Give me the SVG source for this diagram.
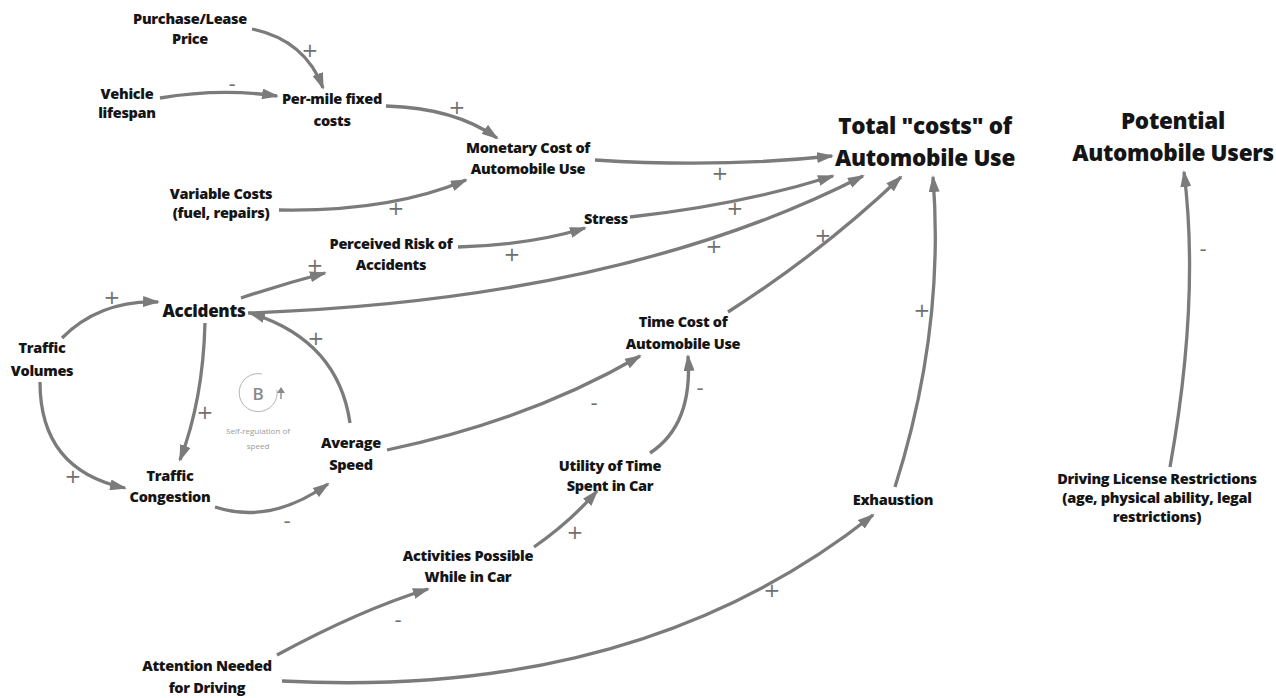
<svg xmlns="http://www.w3.org/2000/svg" width="1276" height="698" viewBox="0 0 1276 698">
  <defs>
    <marker id="arrow" markerUnits="userSpaceOnUse" markerWidth="17" markerHeight="11" viewBox="0 0 17 11" refX="15" refY="5.5" orient="auto">
      <path d="M0,0 L17,5.5 L0,11 z" fill="#7b7b7b"/>
    </marker>
    <marker id="arrow-small" markerUnits="userSpaceOnUse" markerWidth="6" markerHeight="8" viewBox="0 0 6 8" refX="5" refY="4" orient="auto">
      <path d="M0,0 L6,4 L0,8 z" fill="#8a8a8a"/>
    </marker>
  </defs>
  <style>
    .node { font-family: "Open Sans", Lato, "Liberation Sans", sans-serif; font-weight: 800; font-size: 14.5px; fill: #151515; text-anchor: middle; letter-spacing: -0.3px; }
    .big { font-size: 22.5px; }
    .mid { font-size: 17px; }
    .link { fill: none; stroke: #7b7b7b; stroke-width: 3.3; marker-end: url(#arrow); }
    .sign { font-family: "DejaVu Sans", "Liberation Sans", sans-serif; font-size: 20px; fill: #707070; text-anchor: middle; dominant-baseline: central; }
    .loop { fill: none; stroke: #b5b5b5; stroke-width: 1; }
    .loopname { font-family: "Open Sans", "Liberation Sans", sans-serif; font-size: 8px; fill: #9a9a9a; text-anchor: middle; }
  </style>
  <rect width="1276" height="698" fill="#ffffff"/>

  <g id="connectors">
    <path class="link" d="M252,29 Q305,40 323,88"/>
    <path class="link" d="M160,98 Q220,88 277,96"/>
    <path class="link" d="M386,106 Q455,108 497,138"/>
    <path class="link" d="M279,210 Q390,212 466,180"/>
    <path class="link" d="M595,160 Q720,168 832,156"/>
    <path class="link" d="M458,247 Q530,245 585,228"/>
    <path class="link" d="M630,217 Q740,205 833,176"/>
    <path class="link" d="M248,313 Q620,300 863,176"/>
    <path class="link" d="M241,298 Q283,284 325,273"/>
    <path class="link" d="M62,338 Q100,300 158,302"/>
    <path class="link" d="M40,382 Q40,470 125,488"/>
    <path class="link" d="M205,323 Q203,400 180,460"/>
    <path class="link" d="M350,423 Q338,340 250,313"/>
    <path class="link" d="M215,507 Q270,525 328,484"/>
    <path class="link" d="M387,450 Q530,420 640,356"/>
    <path class="link" d="M650,453 Q693,425 688,356"/>
    <path class="link" d="M728,312 Q822,252 901,177"/>
    <path class="link" d="M534,547 Q570,522 597,491"/>
    <path class="link" d="M277,655 Q360,610 428,589"/>
    <path class="link" d="M282,681 Q640,700 873,515"/>
    <path class="link" d="M895,487 Q945,330 933,177"/>
    <path class="link" d="M1170,467 Q1200,300 1184,172"/>
  </g>

  <g id="polarities">
    <text class="sign" x="310" y="50">+</text>
    <text class="sign" x="232" y="84">-</text>
    <text class="sign" x="457" y="107">+</text>
    <text class="sign" x="396" y="208">+</text>
    <text class="sign" x="720" y="173">+</text>
    <text class="sign" x="512" y="254">+</text>
    <text class="sign" x="735" y="208">+</text>
    <text class="sign" x="714" y="246">+</text>
    <text class="sign" x="315" y="265">+</text>
    <text class="sign" x="112" y="297">+</text>
    <text class="sign" x="73" y="476">+</text>
    <text class="sign" x="205" y="412">+</text>
    <text class="sign" x="316" y="338">+</text>
    <text class="sign" x="287" y="521">-</text>
    <text class="sign" x="594" y="403">-</text>
    <text class="sign" x="700" y="388">-</text>
    <text class="sign" x="823" y="235">+</text>
    <text class="sign" x="575" y="532">+</text>
    <text class="sign" x="398" y="620">-</text>
    <text class="sign" x="772" y="590">+</text>
    <text class="sign" x="922" y="310">+</text>
    <text class="sign" x="1203" y="249">-</text>
  </g>

  <g id="loop-b">
    <path class="loop" d="M277,390 A19,19 0 1 1 262,374"/>
    <path d="M281,399 L281,388" stroke="#8a8a8a" stroke-width="1.4" marker-end="url(#arrow-small)"/>
    <text x="258" y="400" font-family="'Open Sans', 'Liberation Sans', sans-serif" font-size="17" font-weight="600" fill="#8a8a8a" text-anchor="middle">B</text>
    <text class="loopname" x="258" y="434">Self-regulation of</text>
    <text class="loopname" x="258" y="449">speed</text>
  </g>

  <g id="purchase-price"><text class="node" x="190" y="24">Purchase/Lease</text><text class="node" x="190" y="44">Price</text></g>
  <g id="vehicle-lifespan"><text class="node" x="127" y="99">Vehicle</text><text class="node" x="127" y="118">lifespan</text></g>
  <g id="per-mile-fixed"><text class="node" x="332" y="104">Per-mile fixed</text><text class="node" x="332" y="126">costs</text></g>
  <g id="monetary-cost"><text class="node" x="528" y="153">Monetary Cost of</text><text class="node" x="528" y="174">Automobile Use</text></g>
  <g id="variable-costs"><text class="node" x="221" y="199">Variable Costs</text><text class="node" x="221" y="218">(fuel, repairs)</text></g>
  <g id="total-costs"><text class="node big" x="925" y="134">Total "costs" of</text><text class="node big" x="925" y="166">Automobile Use</text></g>
  <g id="potential-users"><text class="node big" x="1173" y="129">Potential</text><text class="node big" x="1173" y="161">Automobile Users</text></g>
  <g id="stress"><text class="node" x="606" y="224">Stress</text></g>
  <g id="perceived-risk"><text class="node" x="391" y="249">Perceived Risk of</text><text class="node" x="391" y="270">Accidents</text></g>
  <g id="accidents"><text class="node mid" x="204" y="317">Accidents</text></g>
  <g id="traffic-volumes"><text class="node" x="42" y="353">Traffic</text><text class="node" x="42" y="376">Volumes</text></g>
  <g id="traffic-congestion"><text class="node" x="170" y="481">Traffic</text><text class="node" x="170" y="502">Congestion</text></g>
  <g id="average-speed"><text class="node" x="351" y="448">Average</text><text class="node" x="351" y="470">Speed</text></g>
  <g id="time-cost"><text class="node" x="683" y="327">Time Cost of</text><text class="node" x="683" y="349">Automobile Use</text></g>
  <g id="utility-time"><text class="node" x="610" y="471">Utility of Time</text><text class="node" x="610" y="491">Spent in Car</text></g>
  <g id="activities"><text class="node" x="468" y="561">Activities Possible</text><text class="node" x="468" y="582">While in Car</text></g>
  <g id="exhaustion"><text class="node" x="893" y="505">Exhaustion</text></g>
  <g id="license-restrictions"><text class="node" x="1157" y="484">Driving License Restrictions</text><text class="node" x="1157" y="503">(age, physical ability, legal</text><text class="node" x="1157" y="522">restrictions)</text></g>
  <g id="attention-needed"><text class="node" x="207" y="671">Attention Needed</text><text class="node" x="207" y="693">for Driving</text></g>
</svg>
